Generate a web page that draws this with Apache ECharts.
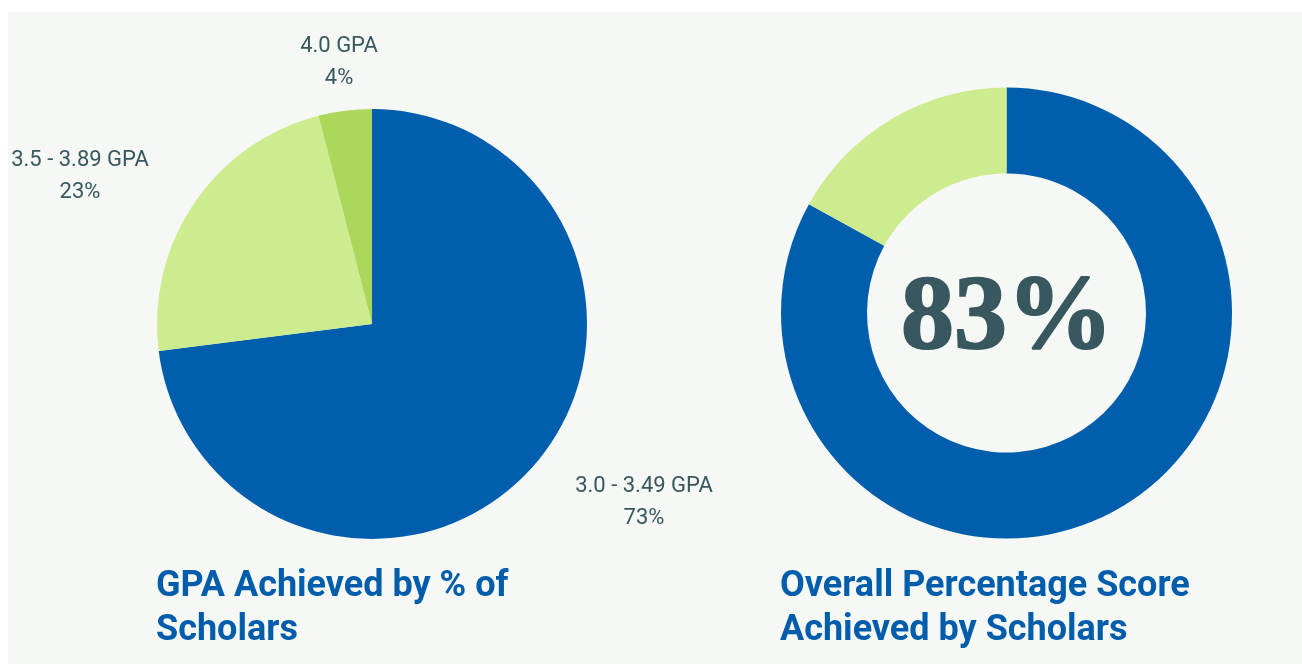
<!DOCTYPE html>
<html>
<head>
<meta charset="utf-8">
<script src="https://cdn.jsdelivr.net/npm/echarts@6/dist/echarts.min.js"></script>
<style>
  html, body { margin: 0; padding: 0; background: #fff; }
  #chart { width: 1302px; height: 664px; }
</style>
</head>
<body>
<div id="chart"></div>
<script>
// GPA split (percent of scholars)
var gpaNames = ["3.0 - 3.49 GPA", "3.5 - 3.89 GPA", "4.0 GPA"];
var gpaValues = [73, 23, 4];
var gpaColors = ["#005eac", "#cdec8f", "#acd75b"];

// overall score donut
var scoreNames = ["Achieved", "Remaining"];
var scoreValues = [83, 17];
var scoreColors = ["#005eac", "#cdec8f"];

var titles = ["GPA Achieved by % of\nScholars", "Overall Percentage Score\nAchieved by Scholars"];

// where each GPA label sits (label centre, in px)
var labelSpots = [[644, 502], [80, 176], [339, 62]];

var textColor = "#38575e";
var titleColor = "#005dab";

var myChart = echarts.init(document.getElementById("chart"));

var option = {
  backgroundColor: "#ffffff",
  animation: false,
  graphic: [
    {
      type: "rect",
      z: -10,
      shape: { x: 8, y: 12, width: 1294, height: 652 },
      style: { fill: "#f6f8f5" }
    },
    {
      type: "text",
      z: 10,
      style: {
        x: 1007,
        y: 321,
        text: scoreValues[0] + "%",
        fill: textColor,
        stroke: textColor,
        lineWidth: 2,
        font: "bold 106px 'Liberation Serif', 'DejaVu Serif', serif",
        textAlign: "center",
        textVerticalAlign: "middle"
      }
    }
  ],
  title: [
    {
      text: titles[0],
      left: 151,
      top: 560,
      textStyle: {
        color: titleColor,
        fontFamily: "Roboto",
        fontWeight: "bold",
        fontSize: 36,
        lineHeight: 44
      }
    },
    {
      text: titles[1],
      left: 775,
      top: 560,
      textStyle: {
        color: titleColor,
        fontFamily: "Roboto",
        fontWeight: "bold",
        fontSize: 36,
        lineHeight: 44
      }
    }
  ],
  series: [
    {
      type: "pie",
      center: [372, 324],
      radius: 215,
      startAngle: 90,
      clockwise: true,
      silent: true,
      label: {
        show: true,
        position: "outside",
        formatter: "{b}\n{c}%",
        color: textColor,
        fontFamily: "Roboto",
        fontSize: 22,
        lineHeight: 32,
        align: "center",
        overflow: "none",
        edgeDistance: 0,
        bleedMargin: 0
      },
      labelLine: { show: false },
      labelLayout: function(params) {
        var p = labelSpots[params.dataIndex];
        return { x: p[0], y: p[1], align: "center", verticalAlign: "middle" };
      },
      data: gpaNames.map(function(n, i) {
        return { name: n, value: gpaValues[i], itemStyle: { color: gpaColors[i] } };
      })
    },
    {
      type: "pie",
      center: [1006.5, 313],
      radius: [139.5, 225.5],
      startAngle: 90,
      clockwise: true,
      silent: true,
      label: { show: false },
      labelLine: { show: false },
      data: scoreNames.map(function(n, i) {
        return { name: n, value: scoreValues[i], itemStyle: { color: scoreColors[i] } };
      })
    }
  ]
};

myChart.setOption(option);
</script>
</body>
</html>
